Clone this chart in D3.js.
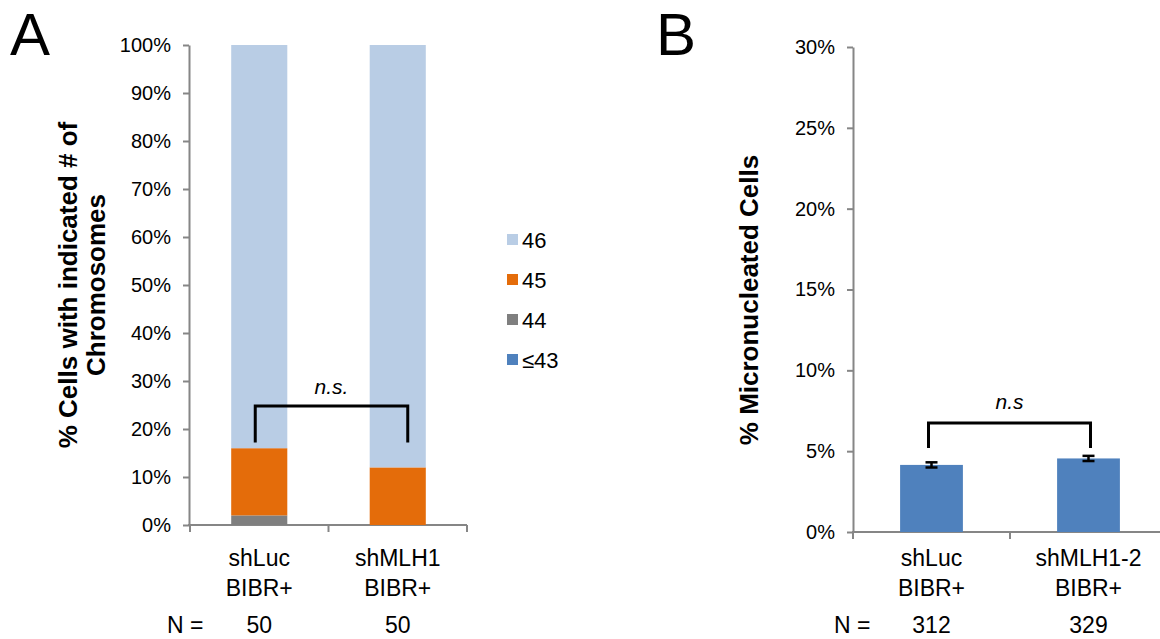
<!DOCTYPE html>
<html>
<head>
<meta charset="utf-8">
<script src="https://cdn.jsdelivr.net/npm/d3@7"></script>
<style>
  body { margin: 0; background: #fff; }
  svg { font-family: "Liberation Sans", Arial, sans-serif; }
</style>
</head>
<body>
<svg id="chart" width="1160" height="639"></svg>
<script>
// panel A data: % of cells per chromosome count
const catsA = ['shLuc', 'shMLH1'];
const countLabels = ['≤43', '44', '45', '46'];
const le43 = [0, 0];
const c44 = [2, 0];
const c45 = [14, 12];
const c46 = [84, 88];
const nA = [50, 50];
const ticksA = [0, 10, 20, 30, 40, 50, 60, 70, 80, 90, 100];

// panel B data: % micronucleated cells
const catsB = ['shLuc', 'shMLH1-2'];
const microValues = [4.15, 4.55];
const microErr = [0.16, 0.16];
const nB = [312, 329];
const ticksB = [0, 5, 10, 15, 20, 25, 30];

const colors = { '≤43': '#4F81BD', '44': '#7F7F7F', '45': '#E46C0A', '46': '#B9CDE5' };
const axisColor = '#868686';

const svg = d3.select('#chart');

function styleAxis(g) {
    g.select('.domain').attr('stroke', axisColor).attr('stroke-width', 2);
    g.selectAll('.tick line').attr('stroke', axisColor).attr('stroke-width', 2);
    g.selectAll('.tick text').attr('fill', '#000').style('font-size', '20px');
}

// ---------- Panel A ----------
var xA = d3.scaleBand().domain(catsA).range([190, 467]).padding(0);
var yA = d3.scaleLinear().domain([0, 100]).range([525, 45]);

svg.append('g')
    .attr('transform', 'translate(189,0)')
    .call(d3.axisLeft(yA).tickValues(ticksA).tickFormat(d => d + '%').tickSize(6).tickPadding(12).tickSizeOuter(0))
    .call(styleAxis);

// x axis with ticks at band boundaries
const gxA = svg.append('g').attr('transform', 'translate(0,525)');
gxA.append('line').attr('x1', 188).attr('x2', xA.range()[1]).attr('stroke', axisColor).attr('stroke-width', 2);
gxA.selectAll('.bt').data(catsA.map(c => xA(c)).concat([xA.range()[1]]))
    .enter().append('line')
    .attr('x1', d => d).attr('x2', d => d).attr('y1', 0).attr('y2', 7)
    .attr('stroke', axisColor).attr('stroke-width', 2);

// stacked bars
const tableA = catsA.map((c, i) => ({ cat: c, '≤43': le43[i], '44': c44[i], '45': c45[i], '46': c46[i] }));
const stackA = d3.stack().keys(countLabels)(tableA);
const barWA = xA.bandwidth() * 0.405;

svg.append('g')
    .selectAll('g')
    .data(stackA)
    .enter()
    .append('g')
    .attr('fill', d => colors[d.key])
    .selectAll('rect')
    .data(d => d)
    .enter()
    .append('rect')
    .attr('x', d => xA(d.data.cat) + (xA.bandwidth() - barWA) / 2)
    .attr('y', d => yA(d[1]))
    .attr('width', barWA)
    .attr('height', d => yA(d[0]) - yA(d[1]));

// category labels and N
catsA.forEach((c, i) => {
    const cx = xA(c) + xA.bandwidth() / 2;
    svg.append('text').attr('x', cx).attr('y', 566).attr('text-anchor', 'middle').style('font-size', '23px').text(c);
    svg.append('text').attr('x', cx).attr('y', 596).attr('text-anchor', 'middle').style('font-size', '23px').text('BIBR+');
    svg.append('text').attr('x', cx).attr('y', 633).attr('text-anchor', 'middle').style('font-size', '23px').text(nA[i]);
});
svg.append('text').attr('x', 167).attr('y', 633).style('font-size', '23px').text('N =');

// significance bracket A
const bA1 = xA(catsA[0]) + xA.bandwidth() / 2 - 4;
const bA2 = xA(catsA[1]) + xA.bandwidth() / 2 + 10;
svg.append('path')
    .attr('d', `M${bA1},${yA(17.2)}V${yA(24.8)}H${bA2}V${yA(17.2)}`)
    .attr('fill', 'none').attr('stroke', '#000').attr('stroke-width', 3);
svg.append('text').attr('x', (bA1 + bA2) / 2).attr('y', 394).attr('text-anchor', 'middle')
    .style('font-size', '21px').style('font-style', 'italic').text('n.s.');

// legend
const legendOrder = ['46', '45', '44', '≤43'];
const lg = svg.append('g').attr('transform', 'translate(507,240)');
legendOrder.forEach((k, i) => {
    lg.append('rect').attr('x', 0).attr('y', i * 40 - 6).attr('width', 11).attr('height', 11).attr('fill', colors[k]);
    lg.append('text').attr('x', 15).attr('y', i * 40 + 8).style('font-size', '22px').text(k);
});

// y title A
svg.append('text')
    .attr('transform', 'translate(77,285) rotate(-90)')
    .attr('text-anchor', 'middle')
    .style('font-size', '26px').style('font-weight', 'bold')
    .text('% Cells with indicated # of');
svg.append('text')
    .attr('transform', 'translate(105,285) rotate(-90)')
    .attr('text-anchor', 'middle')
    .style('font-size', '26px').style('font-weight', 'bold')
    .text('Chromosomes');

svg.append('text').attr('x', 10).attr('y', 55).style('font-size', '60px').text('A');

// ---------- Panel B ----------
var xB = d3.scaleBand().domain(catsB).range([853, 1167]).padding(0);
var yB = d3.scaleLinear().domain([0, 30]).range([532, 47]);

svg.append('g')
    .attr('transform', 'translate(853,0)')
    .call(d3.axisLeft(yB).tickValues(ticksB).tickFormat(d => d + '%').tickSize(6).tickPadding(12).tickSizeOuter(0))
    .call(styleAxis);

const gxB = svg.append('g').attr('transform', 'translate(0,532)');
gxB.append('line').attr('x1', 852).attr('x2', 1160).attr('stroke', axisColor).attr('stroke-width', 2);
gxB.selectAll('.bt').data(catsB.map(c => xB(c)))
    .enter().append('line')
    .attr('x1', d => d).attr('x2', d => d).attr('y1', 0).attr('y2', 7)
    .attr('stroke', axisColor).attr('stroke-width', 2);

const barWB = xB.bandwidth() * 0.4;
const tableB = catsB.map((c, i) => ({ cat: c, value: microValues[i], err: microErr[i] }));

svg.append('g')
    .selectAll('rect')
    .data(tableB)
    .enter()
    .append('rect')
    .attr('x', d => xB(d.cat) + (xB.bandwidth() - barWB) / 2)
    .attr('y', d => yB(d.value))
    .attr('width', barWB)
    .attr('height', d => yB(0) - yB(d.value))
    .attr('fill', colors['≤43']);

// error bars
const eg = svg.append('g').attr('stroke', '#000').attr('stroke-width', 2.5);
tableB.forEach(d => {
    const cx = xB(d.cat) + xB.bandwidth() / 2;
    eg.append('line').attr('x1', cx).attr('x2', cx).attr('y1', yB(d.value - d.err)).attr('y2', yB(d.value + d.err));
    eg.append('line').attr('x1', cx - 6).attr('x2', cx + 6).attr('y1', yB(d.value + d.err)).attr('y2', yB(d.value + d.err));
    eg.append('line').attr('x1', cx - 6).attr('x2', cx + 6).attr('y1', yB(d.value - d.err)).attr('y2', yB(d.value - d.err));
});

catsB.forEach((c, i) => {
    const cx = xB(c) + xB.bandwidth() / 2;
    svg.append('text').attr('x', cx).attr('y', 566).attr('text-anchor', 'middle').style('font-size', '23px').text(c);
    svg.append('text').attr('x', cx).attr('y', 596).attr('text-anchor', 'middle').style('font-size', '23px').text('BIBR+');
    svg.append('text').attr('x', cx).attr('y', 633).attr('text-anchor', 'middle').style('font-size', '23px').text(nB[i]);
});
svg.append('text').attr('x', 834).attr('y', 633).style('font-size', '23px').text('N =');

// significance bracket B
const bB1 = xB(catsB[0]) + xB.bandwidth() / 2 - 3;
const bB2 = xB(catsB[1]) + xB.bandwidth() / 2 + 2;
svg.append('path')
    .attr('d', `M${bB1},${yB(5.2)}V${yB(6.75)}H${bB2}V${yB(5.2)}`)
    .attr('fill', 'none').attr('stroke', '#000').attr('stroke-width', 3);
svg.append('text').attr('x', (bB1 + bB2) / 2).attr('y', 409).attr('text-anchor', 'middle')
    .style('font-size', '21px').style('font-style', 'italic').text('n.s');

svg.append('text')
    .attr('transform', 'translate(758,300) rotate(-90)')
    .attr('text-anchor', 'middle')
    .style('font-size', '26px').style('font-weight', 'bold')
    .text('% Micronucleated Cells');

svg.append('text').attr('x', 656).attr('y', 55).style('font-size', '60px').text('B');
</script>
</body>
</html>
